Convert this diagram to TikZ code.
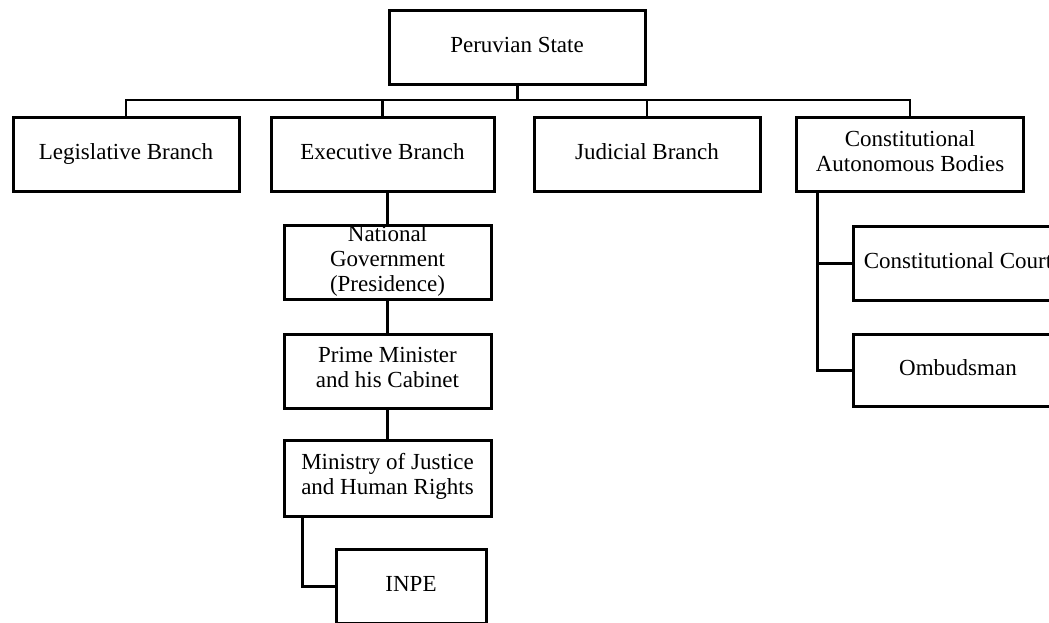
\documentclass[tikz,border=0pt]{standalone}
\usepackage{fontspec}
\setmainfont{Liberation Serif}
\usetikzlibrary{positioning}

\begin{document}
\begin{tikzpicture}[x=1pt,y=-1pt]
\tikzstyle{unit}=[rectangle, draw, line width=3pt, align=center, inner sep=0pt, font=\fontsize{23}{25}\selectfont, execute at begin node=\strut, execute at end node=\strut]
\tikzstyle{link}=[line width=3pt]
\tikzstyle{bus}=[line width=2.2pt]

\useasboundingbox (0,0) rectangle (1049,623);
\clip (0,0) rectangle (1049,623);

%%%%%%%%%%%%%%%%%%%%%%%%%%%%%%
%%%%%
%%%%% ESTADO
\coordinate (state) at (517,48);
\coordinate (bus) at (517,100);

%%%%% PODERES
\coordinate (leg) at (126,154.5);
\coordinate (exe) at (382.5,154.5);
\coordinate (jud) at (647,154.5);
\coordinate (cab) at (910,154.5);

%%%%% EJECUTIVO
\coordinate (gov) at (387.5,262);
\coordinate (pm) at (387.5,371);
\coordinate (min) at (387.5,478);
\coordinate (inpe) at (411,586);

%%%%% ORGANISMOS AUTONOMOS
\coordinate (court) at (958,263);
\coordinate (omb) at (958,370);

%%%%%%%%%%%%%%%%%%%%%%%%%%%%%%
%%%%% NODOS
\node[unit, minimum width=256, minimum height=74] (state) at (state) {Peruvian State};

\node[unit, minimum width=226, minimum height=73] (leg) at (leg) {Legislative Branch};
\node[unit, minimum width=223, minimum height=73] (exe) at (exe) {Executive Branch};
\node[unit, minimum width=226, minimum height=73] (jud) at (jud) {Judicial Branch};
\node[unit, minimum width=227, minimum height=73] (cab) at (cab) {Constitutional\\Autonomous Bodies};

\node[unit, minimum width=207, minimum height=74] (gov) at (gov) {National\\Government\\(Presidence)};
\node[unit, minimum width=207, minimum height=74] (pm) at (pm) {Prime Minister\\and his Cabinet};
\node[unit, minimum width=207, minimum height=76] (min) at (min) {Ministry of Justice\\and Human Rights};
\node[unit, minimum width=150, minimum height=74] (inpe) at (inpe) {INPE};

\node[unit, minimum width=210, minimum height=74] (court) at (court) {Constitutional Court};
\node[unit, minimum width=210, minimum height=72] (omb) at (omb) {Ombudsman};

%%%%%%%%%%%%%%%%%%%%%%%%%%%%%%
%%%%% CONEXIONES
\draw[link] (state) -- (bus);
\draw[bus] (leg) -- (leg |- bus) -- (cab |- bus) -- (cab);
\draw[bus] (exe) -- (exe |- bus);
\draw[bus] (jud) -- (jud |- bus);

\draw[link] (gov) -- (gov |- exe.south);
\draw[link] (gov) -- (pm);
\draw[link] (pm) -- (min);
\draw[link] ([xshift=20pt]min.south west) |- (inpe);

\draw[link] ([xshift=22pt]cab.south west) |- (omb);
\draw[link] ([xshift=22pt]cab.south west |- court) -- (court);

\end{tikzpicture}
\end{document}
